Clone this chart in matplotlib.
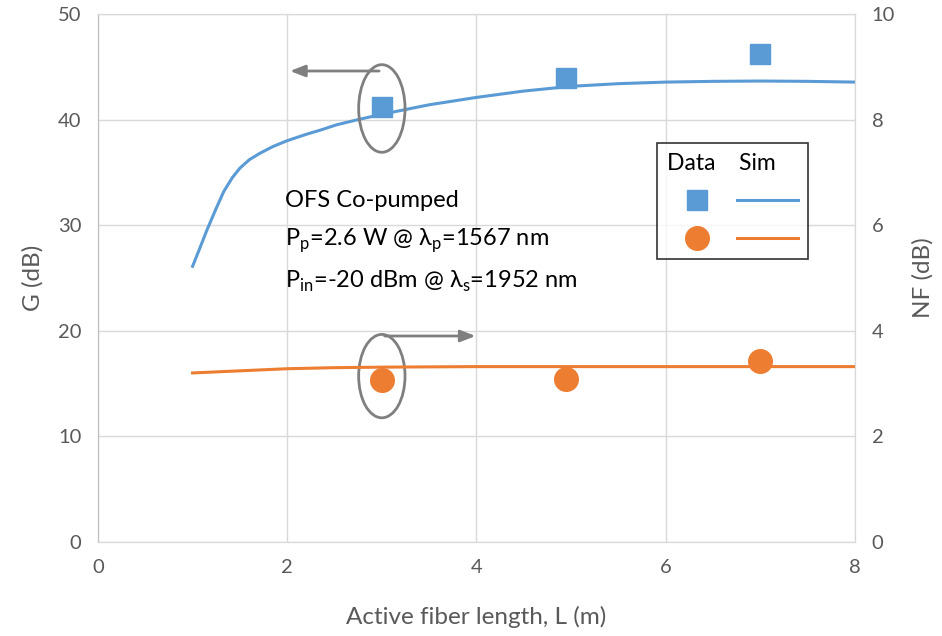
import numpy as np
import matplotlib
matplotlib.use("Agg")
import matplotlib.pyplot as plt
from matplotlib.patches import Ellipse
from matplotlib.lines import Line2D

# measured data
data_L = [3.0, 4.95, 7.0]
data_G = [41.2, 43.9, 46.2]
data_NF = [3.07, 3.09, 3.43]

# simulation curves
sim_L = [1.0, 1.08, 1.15, 1.24, 1.33, 1.42, 1.5, 1.6, 1.71, 1.85, 2.0, 2.2, 2.35, 2.52, 2.75,
         3.0, 3.5, 4.0, 4.5, 5.0, 5.5, 6.0, 6.5, 7.0, 7.5, 8.0]
sim_G = [26.1, 27.9, 29.5, 31.4, 33.2, 34.5, 35.4, 36.2, 36.8, 37.45, 38.0, 38.6, 39.0, 39.5, 40.0,
         40.5, 41.4, 42.1, 42.7, 43.15, 43.4, 43.55, 43.62, 43.65, 43.62, 43.55]
sim_NF_L = [1.0, 1.5, 2.0, 2.5, 3.0, 4.0, 5.0, 6.0, 7.0, 8.0]
sim_NF = [3.2, 3.24, 3.28, 3.3, 3.31, 3.32, 3.32, 3.32, 3.32, 3.32]

blue = "#5b9bd5"
orange = "#ed7d31"
grey = "#7f7f7f"
gridc = "#d9d9d9"
txt = "#595959"

plt.rcParams["font.family"] = ["Lato", "DejaVu Sans"]
plt.rcParams["mathtext.fontset"] = "custom"
plt.rcParams["mathtext.rm"] = "Lato"

fig = plt.figure(figsize=(9.42, 6.36), dpi=100)
ax = fig.add_axes([0.104, 0.148, 0.8036, 0.830])
ax2 = ax.twinx()

ax.plot(sim_L, sim_G, color=blue, lw=2.2)
ax.plot(data_L, data_G, "s", color=blue, ms=14, mec=blue)
ax2.plot(sim_NF_L, sim_NF, color=orange, lw=2.2)
ax2.plot(data_L, data_NF, "o", color=orange, ms=17)

ax.set_xlim(0, 8)
ax.set_ylim(0, 50)
ax2.set_ylim(0, 10)
ax.set_xticks(range(0, 9, 2))
ax.set_yticks(range(0, 51, 10))
ax2.set_yticks(range(0, 11, 2))
ax.grid(True, color=gridc, lw=1)
ax.set_axisbelow(True)
for a in (ax, ax2):
    for s in a.spines.values():
        s.set_color(gridc)
    a.tick_params(length=0, labelsize=14.5, colors=txt, pad=12)
ax2.spines["left"].set_color("#bfbfbf")

ax.set_xlabel("Active fiber length, L (m)", fontsize=17.5, color=txt, labelpad=22)
ax.set_ylabel("G (dB)", fontsize=17.5, color=txt, labelpad=10)
ax2.set_ylabel("NF (dB)", fontsize=17.5, color=txt, labelpad=12)

# annotation: ellipses + arrows pointing to axes
ax.add_patch(Ellipse((3.0, 41.05), 0.49, 8.3, fill=False, ec=grey, lw=2, zorder=5))
ax.add_patch(Ellipse((3.0, 15.7), 0.49, 7.9, fill=False, ec=grey, lw=2, zorder=5))
ax.annotate("", xy=(2.0, 44.6), xytext=(3.0, 44.6),
            arrowprops=dict(arrowstyle="-|>,head_length=0.9,head_width=0.35", color=grey, lw=2))
ax.annotate("", xy=(4.02, 19.5), xytext=(3.0, 19.5),
            arrowprops=dict(arrowstyle="-|>,head_length=0.9,head_width=0.35", color=grey, lw=2))

ax.text(1.98, 32.3, "OFS Co-pumped", fontsize=17, va="center", ha="left")
ax.text(1.98, 28.5, r"P$_\mathrm{p}$=2.6 W @ λ$_\mathrm{p}$=1567 nm", fontsize=17, va="center", ha="left")
ax.text(1.98, 24.7, r"P$_\mathrm{in}$=-20 dBm @ λ$_\mathrm{s}$=1952 nm", fontsize=17, va="center", ha="left")

handles = [Line2D([], [], ls="none", marker="s", color=blue, ms=14),
           Line2D([], [], ls="none", marker="o", color=orange, ms=17),
           Line2D([], [], color=blue, lw=2.2),
           Line2D([], [], color=orange, lw=2.2)]
leg = ax.legend(handles, ["", "", "", ""], ncol=2, title="Data    Sim",
                title_fontsize=16.5, fontsize=16, loc="upper left",
                bbox_to_anchor=(0.738, 0.756), handlelength=2.75, handletextpad=0.0,
                columnspacing=0.4, frameon=True, fancybox=False, borderpad=0.45,
                labelspacing=0.8, borderaxespad=0, alignment="left")
leg.get_frame().set_edgecolor("black")
leg.get_frame().set_linewidth(1.2)
leg.set_zorder(10)

fig.savefig("out.png", dpi=100)
